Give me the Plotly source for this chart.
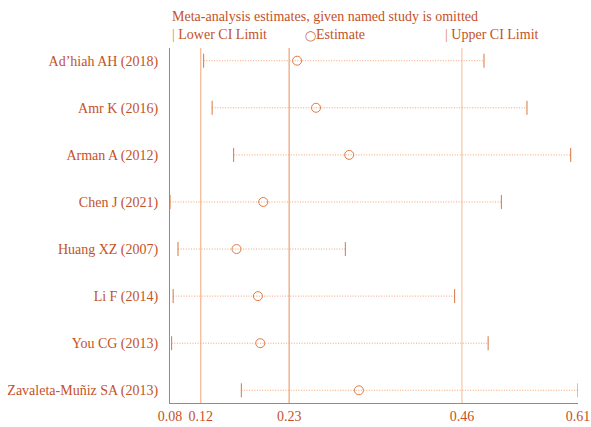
import plotly.graph_objects as go

studies = ["Ad’hiah AH (2018)", "Amr K (2016)", "Arman A (2012)", "Chen J (2021)",
           "Huang XZ (2007)", "Li F (2014)", "You CG (2013)", "Zavaleta-Muñiz SA (2013)"]
lower = [0.124, 0.135, 0.163, 0.0802, 0.0906, 0.0843, 0.0823, 0.173]
estimate = [0.2456, 0.2702, 0.3133, 0.2015, 0.1667, 0.1946, 0.1976, 0.326]
upper = [0.4887, 0.5446, 0.6015, 0.5113, 0.3083, 0.4505, 0.4941, 0.611]

overall = [0.1202, 0.2352, 0.4600]  # lower CI, estimate, upper CI of full analysis
tick_vals = [0.0802, 0.1202, 0.2352, 0.4600, 0.611]
tick_text = ["0.08", "0.12", "0.23", "0.46", "0.61"]

TXT = "#C4521F"
AX = "#D8763E"
DOT = "#F3A271"
FONT = "Liberation Serif"

fig = go.Figure()

# dotted CI lines
xs, ys = [], []
for s, lo, hi in zip(studies, lower, upper):
    xs += [lo, hi, None]
    ys += [s, s, None]
fig.add_trace(go.Scatter(x=xs, y=ys, mode="lines",
                         line=dict(color=DOT, width=1, dash="1px,1.6px"),
                         hoverinfo="skip", showlegend=False))
fig.add_trace(go.Scatter(x=lower, y=studies, mode="markers",
                         marker=dict(symbol="line-ns", size=10,
                                     line=dict(color=AX, width=1)),
                         showlegend=False))
fig.add_trace(go.Scatter(x=upper, y=studies, mode="markers",
                         marker=dict(symbol="line-ns", size=10,
                                     line=dict(color=AX, width=1)),
                         showlegend=False))
fig.add_trace(go.Scatter(x=estimate, y=studies, mode="markers",
                         marker=dict(symbol="circle-open", size=9,
                                     color="#E07A45", line=dict(width=1)),
                         showlegend=False))

line_cols = ["#F5B58E", "#EFA070", "#F8C6A6"]
for v, c in zip(overall, line_cols):
    fig.add_shape(type="line", xref="x", yref="paper", x0=v, x1=v, y0=0, y1=1,
                  line=dict(color=c, width=1.2), layer="below")

fig.update_layout(
    width=591, height=427,
    margin=dict(l=170, r=13, t=48, b=24),
    plot_bgcolor="white", paper_bgcolor="white",
    font=dict(family=FONT, size=14, color=TXT),
    showlegend=False,
)
fig.update_xaxes(range=[tick_vals[0], tick_vals[-1]], tickvals=tick_vals, ticktext=tick_text,
                 showgrid=False, zeroline=False, showline=True, linecolor=AX, linewidth=1,
                 ticks="outside", ticklen=0, automargin=False,
                 tickfont=dict(size=14, color=TXT))
fig.update_yaxes(type="category", categoryorder="array", categoryarray=studies,
                 range=[len(studies) - 1 + 0.27, -0.27],
                 showgrid=False, zeroline=False, showline=True, linecolor=AX, linewidth=1,
                 ticks="outside", ticklen=0, ticklabelstandoff=8, automargin=False,
                 tickfont=dict(size=14, color=TXT))

fig.add_annotation(text="Meta-analysis estimates, given named study is omitted",
                   xref="paper", yref="paper", x=0.0, y=1.0, yshift=32,
                   xanchor="left", yanchor="middle", showarrow=False,
                   font=dict(size=14, color=TXT, family=FONT))
legend_items = [("<span style='color:#E0874F'>|</span> Lower CI Limit", 0.0),
                ("<span style='font-size:10px'>◯</span>Estimate", 0.325),
                ("<span style='color:#E0874F'>|</span> Upper CI Limit", 0.67)]
for t, xp in legend_items:
    fig.add_annotation(text=t, xref="paper", yref="paper", x=xp, y=1.0, yshift=14,
                       xanchor="left", yanchor="middle", showarrow=False,
                       font=dict(size=14, color=TXT, family=FONT))

fig.write_html("out.html", config={"displayModeBar": False},
               post_script="document.body.style.margin='0';document.body.style.padding='0';")
